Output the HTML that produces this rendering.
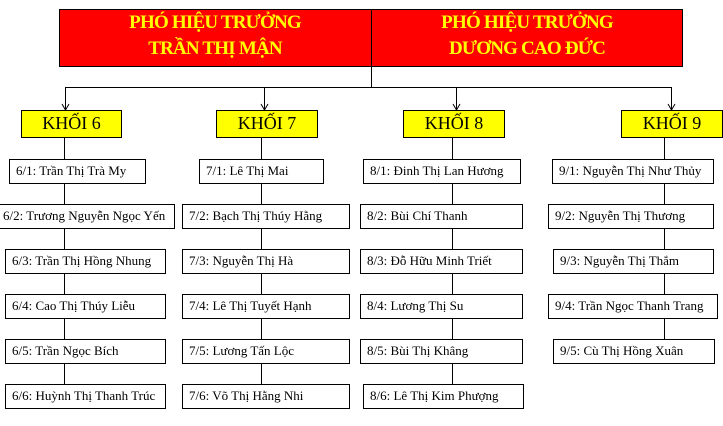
<!DOCTYPE html>
<html><head><meta charset="utf-8"><style>
body{margin:0;background:#fff;width:723px;height:426px;position:relative;overflow:hidden;font-family:"Liberation Serif",serif}
.b{position:absolute;border:1px solid #000;box-sizing:border-box;background:#fff;font-size:13px;line-height:22px;padding-left:6px;white-space:nowrap;color:#000}
.k{position:absolute;border:1px solid #000;box-sizing:border-box;background:#ff0;font-size:18px;text-align:center;line-height:25px}
.t{position:absolute;color:#ff0;font-weight:bold;font-size:19px;text-align:center;letter-spacing:-0.8px;line-height:26px;top:10px}
</style></head><body>
<svg width="723" height="426" style="position:absolute;left:0;top:0">
<g stroke="#000" stroke-width="1" fill="none">
<line x1="371.5" y1="66" x2="371.5" y2="87.5"/>
<line x1="65" y1="87.5" x2="672" y2="87.5"/>
<line x1="65.5" y1="87" x2="65.5" y2="110"/>
<line x1="264.5" y1="87" x2="264.5" y2="110"/>
<line x1="456.5" y1="87" x2="456.5" y2="110"/>
<line x1="671.5" y1="87" x2="671.5" y2="110"/>
<polyline points="62,104 65.5,110 69,104"/><polyline points="261,104 264.5,110 268,104"/>
<polyline points="453,104 456.5,110 460,104"/><polyline points="668,104 671.5,110 675,104"/>
<line x1="64.5" y1="137" x2="64.5" y2="384"/>
<line x1="261.5" y1="137" x2="261.5" y2="384"/>
<line x1="452.5" y1="137" x2="452.5" y2="384"/>
<line x1="664.5" y1="137" x2="664.5" y2="339"/>
</g></svg>
<div style="position:absolute;left:59px;top:9px;width:624px;height:58px;background:#f00;border:1px solid #000;box-sizing:border-box"></div>
<div style="position:absolute;left:371px;top:9px;width:1px;height:58px;background:#000"></div>
<div class="t" style="left:59px;width:312px">PHÓ HIỆU TRƯỞNG<br>TRẦN THỊ MẬN</div>
<div class="t" style="left:371px;width:312px">PHÓ HIỆU TRƯỞNG<br>DƯƠNG CAO ĐỨC</div>
<div class="k" style="left:21px;top:110px;width:101px;height:28px">KHỐI 6</div>
<div class="k" style="left:216px;top:110px;width:102px;height:28px">KHỐI 7</div>
<div class="k" style="left:403px;top:110px;width:102px;height:28px">KHỐI 8</div>
<div class="k" style="left:621px;top:110px;width:102px;height:28px">KHỐI 9</div>

<div class="b" style="left:9px;top:159px;width:137px;height:25px">6/1: Trần Thị Trà My</div>
<div class="b" style="left:-1px;top:204px;width:176px;height:25px;padding-left:3px">6/2: Trương Nguyễn Ngọc Yến</div>
<div class="b" style="left:5px;top:249px;width:161px;height:25px">6/3: Trần Thị Hồng Nhung</div>
<div class="b" style="left:5px;top:294px;width:161px;height:25px">6/4: Cao Thị Thúy Liễu</div>
<div class="b" style="left:5px;top:339px;width:161px;height:25px">6/5: Trần Ngọc Bích</div>
<div class="b" style="left:5px;top:384px;width:161px;height:25px">6/6: Huỳnh Thị Thanh Trúc</div>

<div class="b" style="left:199px;top:159px;width:125px;height:25px">7/1: Lê Thị Mai</div>
<div class="b" style="left:182px;top:204px;width:168px;height:25px">7/2: Bạch Thị Thúy Hằng</div>
<div class="b" style="left:182px;top:249px;width:168px;height:25px">7/3: Nguyễn Thị Hà</div>
<div class="b" style="left:182px;top:294px;width:168px;height:25px">7/4: Lê Thị Tuyết Hạnh</div>
<div class="b" style="left:182px;top:339px;width:168px;height:25px">7/5: Lương Tấn Lộc</div>
<div class="b" style="left:182px;top:384px;width:168px;height:25px">7/6: Võ Thị Hằng Nhi</div>

<div class="b" style="left:363px;top:159px;width:158px;height:25px">8/1: Đinh Thị Lan Hương</div>
<div class="b" style="left:360px;top:204px;width:163px;height:25px">8/2: Bùi Chí Thanh</div>
<div class="b" style="left:360px;top:249px;width:163px;height:25px">8/3: Đỗ Hữu Minh Triết</div>
<div class="b" style="left:360px;top:294px;width:163px;height:25px">8/4: Lương Thị Su</div>
<div class="b" style="left:360px;top:339px;width:163px;height:25px">8/5: Bùi Thị Khâng</div>
<div class="b" style="left:363px;top:384px;width:161px;height:25px">8/6: Lê Thị Kim Phượng</div>

<div class="b" style="left:552px;top:159px;width:162px;height:25px">9/1: Nguyễn Thị Như Thủy</div>
<div class="b" style="left:548px;top:204px;width:166px;height:25px">9/2: Nguyễn Thị Thương</div>
<div class="b" style="left:553px;top:249px;width:161px;height:25px">9/3: Nguyễn Thị Thắm</div>
<div class="b" style="left:548px;top:294px;width:170px;height:25px">9/4: Trần Ngọc Thanh Trang</div>
<div class="b" style="left:553px;top:339px;width:162px;height:25px">9/5: Cù Thị Hồng Xuân</div>
</body></html>
